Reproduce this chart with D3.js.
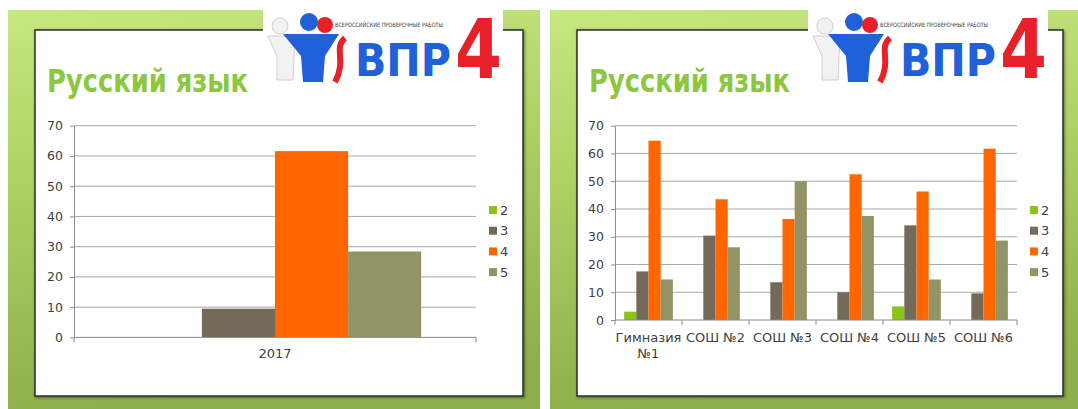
<!DOCTYPE html>
<html lang="ru">
<head>
<meta charset="UTF-8">
<title>ВПР - Русский язык</title>
<script src="https://d3js.org/d3.v7.min.js"></script>
<style>
  body { margin: 0; background: #fff; }
  svg { display: block; font-family: 'DejaVu Sans', sans-serif; }
</style>
</head>
<body>
<svg id="chart" width="1078" height="409"></svg>
<script>
// data
const grades = ['2', '3', '4', '5'];
const gradeColors = ['#8cc414', '#736a5a', '#ff6600', '#939466'];
const yTicks = [0, 10, 20, 30, 40, 50, 60, 70];
const titleText = 'Русский язык';

// left slide: by year
const yearCats = ['2017'];
const yearGrade2 = [0];
const yearGrade3 = [9.5];
const yearGrade4 = [61.6];
const yearGrade5 = [28.4];

// right slide: by school
const schoolCats = ['Гимназия №1', 'СОШ №2', 'СОШ №3', 'СОШ №4', 'СОШ №5', 'СОШ №6'];
const schoolGrade2 = [3.0, 0, 0, 0, 4.9, 0];
const schoolGrade3 = [17.5, 30.4, 13.6, 10.0, 34.1, 9.6];
const schoolGrade4 = [64.6, 43.5, 36.4, 52.5, 46.3, 61.7];
const schoolGrade5 = [14.6, 26.2, 50.0, 37.5, 14.6, 28.6];

const svg = d3.select('#chart');

// background gradient
const defs = svg.append('defs');
const bg = defs.append('linearGradient').attr('id', 'bg')
    .attr('x1', 0).attr('y1', 0).attr('x2', 0.15).attr('y2', 1);
bg.append('stop').attr('offset', '0%').attr('stop-color', '#c7e77f');
bg.append('stop').attr('offset', '45%').attr('stop-color', '#acd062');
bg.append('stop').attr('offset', '100%').attr('stop-color', '#8fae4d');

const shadow = defs.append('filter').attr('id', 'shadow')
    .attr('x', '-5%').attr('y', '-5%').attr('width', '110%').attr('height', '110%');
shadow.append('feDropShadow').attr('dx', 1).attr('dy', 1).attr('stdDeviation', 1.5)
    .attr('flood-color', '#000').attr('flood-opacity', 0.45);

function drawLogo(g) {
    g.append('rect').attr('width', 240).attr('height', 95).attr('fill', '#fff');
    // grey figure behind
    g.append('circle').attr('cx', 17).attr('cy', 26).attr('r', 8)
        .attr('fill', '#f2f2f2').attr('stroke', '#cfcfcf');
    g.append('path').attr('d', 'M5 36 L32 36 L30 80 L14 80 L14 56 Z')
        .attr('fill', '#f2f2f2').attr('stroke', '#cfcfcf');
    // blue and red heads
    g.append('circle').attr('cx', 46).attr('cy', 22).attr('r', 9).attr('fill', '#2060d8');
    g.append('circle').attr('cx', 62).attr('cy', 25).attr('r', 8).attr('fill', '#e8202a');
    // blue body
    g.append('path').attr('d', 'M20 34 L76 34 L62 56 L60 82 L40 82 L38 56 Z').attr('fill', '#2060d8');
    // red swoosh
    g.append('path').attr('d', 'M82 38 C70 48 84 60 72 82')
        .attr('fill', 'none').attr('stroke', '#e8202a').attr('stroke-width', 6);
    g.append('text').attr('x', 72).attr('y', 27).attr('font-size', 6)
        .attr('textLength', 108).attr('lengthAdjust', 'spacingAndGlyphs')
        .attr('fill', '#3a3a3a').text('ВСЕРОССИЙСКИЕ ПРОВЕРОЧНЫЕ РАБОТЫ');
    g.append('text').attr('x', 92).attr('y', 76).attr('font-size', 45).attr('font-weight', 'bold')
        .attr('textLength', 96).attr('lengthAdjust', 'spacingAndGlyphs')
        .attr('fill', '#2060d8').text('ВПР');
    g.append('text').attr('x', 192).attr('y', 78).attr('font-size', 82).attr('font-weight', 'bold')
        .attr('textLength', 47).attr('lengthAdjust', 'spacingAndGlyphs')
        .attr('fill', '#e8202a').text('4');
}

function drawSlide(o) {
    // green slide
    svg.append('rect').attr('x', o.slideX).attr('y', 10)
        .attr('width', o.slideW).attr('height', 399).attr('fill', 'url(#bg)');
    // white panel
    svg.append('rect').attr('x', o.panelX).attr('y', 30)
        .attr('width', o.panelW).attr('height', 366)
        .attr('fill', '#fff').attr('stroke', '#2b2b2b').attr('stroke-width', 1.5)
        .attr('filter', 'url(#shadow)');
    drawLogo(svg.append('g').attr('transform', `translate(${o.logoX},0)`));
    svg.append('text').attr('x', o.panelX + 12).attr('y', 92)
        .attr('font-size', 32).attr('font-weight', 'bold').attr('fill', '#8dc63f')
        .attr('textLength', 201).attr('lengthAdjust', 'spacingAndGlyphs')
        .text(titleText);

    const g = svg.append('g');
    const y = d3.scaleLinear().domain([0, 70]).range([o.yBot, o.yTop]);
    const x0 = d3.scaleBand().domain(o.cats).range([o.xL, o.xR]).paddingInner(0).paddingOuter(0);
    const bw = x0.bandwidth() / (grades.length + 1.5);
    const x1 = d3.scaleBand().domain(grades).range([0, bw * grades.length]);

    // gridlines
    g.append('g').selectAll('line').data(yTicks.filter(d => d > 0)).join('line')
        .attr('x1', o.xL).attr('x2', o.xR)
        .attr('y1', d => y(d)).attr('y2', d => y(d))
        .attr('stroke', '#a8a8a8').attr('stroke-width', 1);

    // bars
    const rows = o.cats.map((c, i) => ({ cat: c, vals: o.series.map(s => s[i]) }));
    g.append('g').selectAll('g').data(rows).join('g')
        .attr('transform', d => `translate(${x0(d.cat) + bw * 0.75},0)`)
        .selectAll('rect').data(d => d.vals.map((v, k) => ({ v, k })))
        .join('rect')
        .attr('x', d => x1(grades[d.k]))
        .attr('width', x1.bandwidth())
        .attr('y', d => y(d.v))
        .attr('height', d => y(0) - y(d.v))
        .attr('fill', d => gradeColors[d.k]);

    // y axis
    const ya = g.append('g').attr('transform', `translate(${o.xL},0)`)
        .call(d3.axisLeft(y).tickValues(yTicks).tickSize(4).tickSizeOuter(0).tickPadding(7));
    ya.select('.domain').attr('stroke', '#8c8c8c');
    ya.selectAll('.tick line').attr('stroke', '#8c8c8c');
    ya.selectAll('.tick text').attr('font-size', 12.5).attr('fill', '#404040')
        .attr('font-family', "'DejaVu Sans', sans-serif");

    // x axis line and boundary ticks
    g.append('line').attr('x1', o.xL).attr('x2', o.xR)
        .attr('y1', y(0)).attr('y2', y(0)).attr('stroke', '#8c8c8c');
    const bounds = o.cats.map(c => x0(c)).concat([o.xR]);
    g.append('g').selectAll('line').data(bounds).join('line')
        .attr('x1', d => d).attr('x2', d => d)
        .attr('y1', y(0)).attr('y2', y(0) + 5).attr('stroke', '#8c8c8c');

    // category labels (wrapped when wider than band)
    g.append('g').selectAll('text').data(o.cats).join('text')
        .attr('x', d => x0(d) + x0.bandwidth() / 2)
        .attr('y', y(0) + o.labelDy)
        .attr('text-anchor', 'middle').attr('font-size', 13).attr('fill', '#404040')
        .each(function (d) {
            const t = d3.select(this);
            t.text(d);
            if (this.getComputedTextLength() > x0.bandwidth() - 1 && d.includes(' ')) {
                const cut = d.lastIndexOf(' ');
                t.text(null);
                const cx = x0(d) + x0.bandwidth() / 2;
                t.append('tspan').attr('x', cx).text(d.slice(0, cut));
                t.append('tspan').attr('x', cx).attr('dy', 16).text(d.slice(cut + 1));
            }
        });

    // legend
    const lg = g.append('g').attr('transform', `translate(${o.legendX},210)`);
    const items = lg.selectAll('g').data(grades).join('g')
        .attr('transform', (d, i) => `translate(0,${i * 20.7})`);
    items.append('rect').attr('x', 0).attr('y', -4).attr('width', 8).attr('height', 8)
        .attr('fill', (d, i) => gradeColors[i]);
    items.append('text').attr('x', 11).attr('y', 0).attr('dy', '0.36em')
        .attr('font-size', 13).attr('fill', '#404040').text(d => d);
}

drawSlide({
    slideX: 8, slideW: 532, panelX: 35, panelW: 488, logoX: 263,
    cats: yearCats, series: [yearGrade2, yearGrade3, yearGrade4, yearGrade5],
    xL: 74, xR: 476, yTop: 125.7, yBot: 337.4, labelDy: 21, legendX: 489
});
drawSlide({
    slideX: 550, slideW: 528, panelX: 577, panelW: 486, logoX: 808,
    cats: schoolCats, series: [schoolGrade2, schoolGrade3, schoolGrade4, schoolGrade5],
    xL: 615, xR: 1017, yTop: 125.7, yBot: 320, labelDy: 22, legendX: 1030
});
</script>
</body>
</html>
